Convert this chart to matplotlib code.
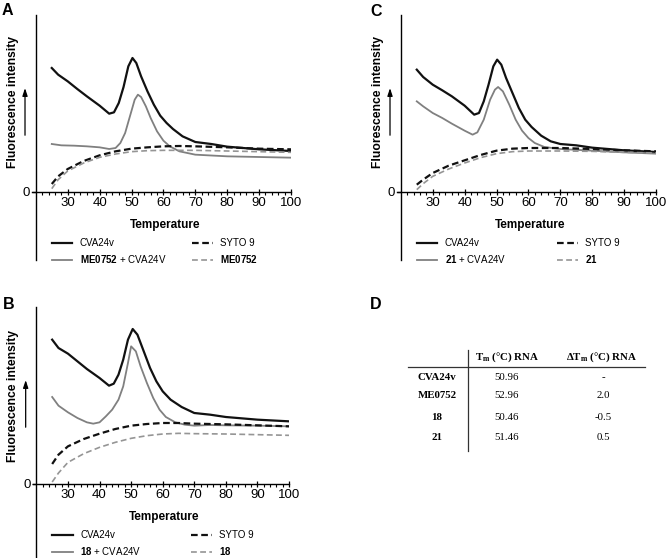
import numpy as np
import matplotlib
matplotlib.use("Agg")
import matplotlib.pyplot as plt
from matplotlib.lines import Line2D

plt.rcParams['font.family'] = ['Liberation Sans', 'DejaVu Sans']
plt.rcParams['mathtext.fontset'] = 'custom'
plt.rcParams['mathtext.rm'] = 'Liberation Sans'
plt.rcParams['mathtext.bf'] = 'Liberation Sans:bold'

# ---- panel A data (temperature, fluorescence in arbitrary units) ----
a_cva_t = [25, 27, 30, 33, 36, 40, 43, 44.5, 46, 47.5, 49, 50.3, 51.5, 53, 55, 57, 59, 61, 63, 66, 70, 75, 80, 90, 100]
a_cva_f = [372, 352, 332, 309, 287, 259, 235, 239, 267, 315, 377, 402, 387, 347, 302, 262, 229, 207, 189, 167, 150, 144, 136, 128, 123]
a_mix_t = [25, 28, 32, 36, 40, 43, 45, 46.5, 48, 49.5, 51, 52, 53, 54.5, 56, 58, 60, 62, 65, 70, 80, 90, 100]
a_mix_f = [144, 140, 139, 137, 134, 129, 132, 147, 177, 227, 277, 292, 285, 257, 222, 182, 154, 137, 122, 112, 107, 105, 103]
a_syto_t = [25, 27, 30, 35, 40, 45, 50, 55, 60, 65, 70, 80, 90, 100]
a_syto_f = [24, 47, 69, 93, 110, 122, 130, 134, 137, 138, 137, 134, 130, 128]
a_cmp_t = [25, 27, 30, 35, 40, 45, 50, 55, 60, 70, 80, 90, 100]
a_cmp_f = [10, 37, 63, 87, 104, 114, 121, 124, 125, 125, 123, 121, 119]

# ---- panel B data ----
b_cva_t = [25, 27, 30, 33, 36, 40, 43, 44.5, 46, 47.5, 49, 50.5, 52, 54, 56, 58, 60, 62.5, 66, 70, 75, 80, 90, 100]
b_cva_f = [433, 408, 391, 368, 345, 318, 295, 301, 328, 373, 433, 465, 448, 398, 348, 308, 278, 253, 231, 213, 208, 201, 193, 188]
b_mix_t = [25, 27, 30, 33, 36, 38, 40, 42, 44, 46, 47.5, 49, 50, 51.5, 53, 55, 57, 59, 61, 64, 67, 70, 75, 80, 90, 100]
b_mix_f = [261, 235, 215, 198, 185, 181, 185, 203, 223, 253, 293, 363, 413, 398, 353, 303, 258, 223, 201, 185, 178, 175, 177, 176, 175, 173]
b_syto_t = [25, 27, 30, 35, 40, 45, 50, 55, 60, 65, 70, 80, 90, 100]
b_syto_f = [60, 88, 113, 135, 151, 165, 175, 180, 183, 183, 181, 179, 176, 173]
b_cmp_t = [25, 27, 30, 35, 40, 45, 50, 55, 60, 65, 70, 80, 90, 100]
b_cmp_f = [6, 33, 65, 91, 110, 125, 137, 145, 150, 152, 151, 150, 148, 146]

# ---- panel C data ----
c_cva_t = [25, 27, 30, 33, 36, 40, 43, 44.5, 46, 47.5, 49, 50.2, 51.5, 53, 55, 57, 59, 61, 64, 67, 70, 75, 80, 90, 100]
c_cva_f = [367, 345, 322, 305, 287, 259, 232, 237, 272, 322, 377, 397, 382, 342, 297, 252, 217, 195, 169, 152, 144, 140, 133, 125, 120]
c_mix_t = [25, 27, 30, 33, 36, 40, 42.5, 44, 46, 48, 49.5, 50.5, 52, 54, 56, 58, 60, 62, 65, 70, 80, 90, 100]
c_mix_f = [272, 257, 237, 222, 205, 184, 172, 179, 217, 277, 307, 315, 302, 262, 217, 184, 162, 147, 135, 129, 124, 119, 115]
c_syto_t = [25, 27, 30, 35, 40, 45, 50, 55, 60, 70, 80, 90, 100]
c_syto_f = [22, 37, 57, 79, 95, 111, 124, 130, 132, 132, 129, 125, 122]
c_cmp_t = [25, 27, 30, 35, 40, 45, 50, 55, 60, 70, 80, 90, 100]
c_cmp_f = [7, 25, 47, 69, 87, 103, 115, 121, 123, 123, 122, 119, 117]

# ---- panel D table ----
row_names = ['CVA24v', 'ME0752', '18', '21']
tm_values = ['50.96', '52.96', '50.46', '51.46']
dtm_values = ['-', '2.0', '-0.5', '0.5']

xticks = list(range(30, 101, 10))

W, H = 668, 558
fig = plt.figure(figsize=(W / 100, H / 100), dpi=100)


def px_rect(left, right, top, bottom):
    return [left / W, 1 - bottom / H, (right - left) / W, (bottom - top) / H]


def draw_panel(rect, ylim, series, cmp_name):
    ax = fig.add_axes(rect)
    ax.set_xlim(18.8, 100)
    ax.set_ylim(*ylim)
    (cva_t, cva_f), (mix_t, mix_f), (syto_t, syto_f), (cmp_t, cmp_f) = series
    l1, = ax.plot(cva_t, cva_f, color='#111111', lw=1.6, label='CVA24v')
    l2, = ax.plot(mix_t, mix_f, color='#808080', lw=1.3,
                  label='$\\mathbf{%s}$ + CVA24V' % cmp_name)
    l3, = ax.plot(syto_t, syto_f, color='#111111', lw=1.6, dashes=(3, 1.6), label='SYTO 9')
    l4, = ax.plot(cmp_t, cmp_f, color='#959595', lw=1.2, dashes=(3.5, 2),
                  label='$\\mathbf{%s}$' % cmp_name)

    for s in ['top', 'right']:
        ax.spines[s].set_visible(False)
    ax.spines['left'].set_position(('data', 20))
    ax.spines['bottom'].set_position(('data', 0))
    ax.spines['left'].set_linewidth(1.0)
    ax.spines['bottom'].set_linewidth(1.0)

    ax.set_xticks(xticks)
    ax.set_xticks(np.arange(22, 101, 2), minor=True)
    ax.tick_params(axis='x', which='major', direction='inout', length=5, width=0.9,
                   labelsize=9.5, pad=1)
    ax.tick_params(axis='x', which='minor', direction='out', length=2.5, width=0.8)
    ax.set_yticks([0])
    ax.set_yticklabels(['0'])
    ax.tick_params(axis='y', direction='out', length=3, width=0.9, labelsize=9.5, pad=1)

    ax.set_ylabel('Fluorescence intensity', fontsize=8.7, fontweight='bold')
    ax.yaxis.set_label_coords(-0.052, 0.645)
    ax.annotate('', xy=(-0.027, 320), xytext=(-0.027, 162),
                xycoords=('axes fraction', 'data'), textcoords=('axes fraction', 'data'),
                arrowprops=dict(arrowstyle='-|>,head_length=0.45,head_width=0.15',
                                color='black', lw=0.9), annotation_clip=False)
    ax.text(60.5, -99, 'Temperature', fontsize=8.5, fontweight='bold',
            ha='center', va='center')

    kw = dict(loc='upper left', frameon=False, fontsize=7, handlelength=2.1,
              handletextpad=0.8, borderpad=0, borderaxespad=0, labelspacing=0.55,
              bbox_transform=ax.transData)
    leg1 = ax.legend([l1, l2], [l1.get_label(), l2.get_label()],
                     bbox_to_anchor=(25, -138), **kw)
    ax.add_artist(leg1)
    ax.legend([l3, l4], [l3.get_label(), l4.get_label()],
              bbox_to_anchor=(69, -138), **kw)
    return ax


draw_panel(px_rect(32, 291, 15, 260), (-204, 531),
           [(a_cva_t, a_cva_f), (a_mix_t, a_mix_f), (a_syto_t, a_syto_f), (a_cmp_t, a_cmp_f)],
           'ME0752')
draw_panel(px_rect(32.6, 289, 307, 558), (-222, 531),
           [(b_cva_t, b_cva_f), (b_mix_t, b_mix_f), (b_syto_t, b_syto_f), (b_cmp_t, b_cmp_f)],
           '18')
draw_panel(px_rect(397, 656, 15, 260), (-204, 531),
           [(c_cva_t, c_cva_f), (c_mix_t, c_mix_f), (c_syto_t, c_syto_f), (c_cmp_t, c_cmp_f)],
           '21')

# panel letters
for letter, (px, py) in zip('ABCD', [(2, 3), (3, 297), (370, 4), (370, 297)]):
    fig.text(px / W, 1 - py / H, letter, fontsize=11.5, fontweight='bold',
             ha='left', va='top')

# ---- table (panel D) ----
serif = ['Liberation Serif', 'DejaVu Serif']
fig.add_artist(Line2D([408 / W, 645 / W], [1 - 367 / H, 1 - 367 / H], color='#333333', lw=0.9))
fig.add_artist(Line2D([468 / W, 468 / W], [1 - 350 / H, 1 - 451 / H], color='#333333', lw=0.9))
fig.text(507 / W, 1 - 357 / H, 'T$\\mathregular{_m}$ (°C) RNA', family=serif,
         fontweight='bold', fontsize=7.8, ha='center', va='center')
fig.text(602 / W, 1 - 357 / H, 'ΔT$\\mathregular{_m}$ (°C) RNA', family=serif,
         fontweight='bold', fontsize=7.8, ha='center', va='center')
row_y = [378, 396, 417, 438]
for name, tm, dtm, y in zip(row_names, tm_values, dtm_values, row_y):
    fig.text(437 / W, 1 - y / H, name, family=serif, fontweight='bold', fontsize=7.8,
             ha='center', va='center')
    fig.text(507 / W, 1 - y / H, tm, family=serif, fontsize=7.8, ha='center', va='center')
    fig.text(603 / W, 1 - y / H, dtm, family=serif, fontsize=7.8, ha='center', va='center')

fig.savefig('out.png', dpi=100)
